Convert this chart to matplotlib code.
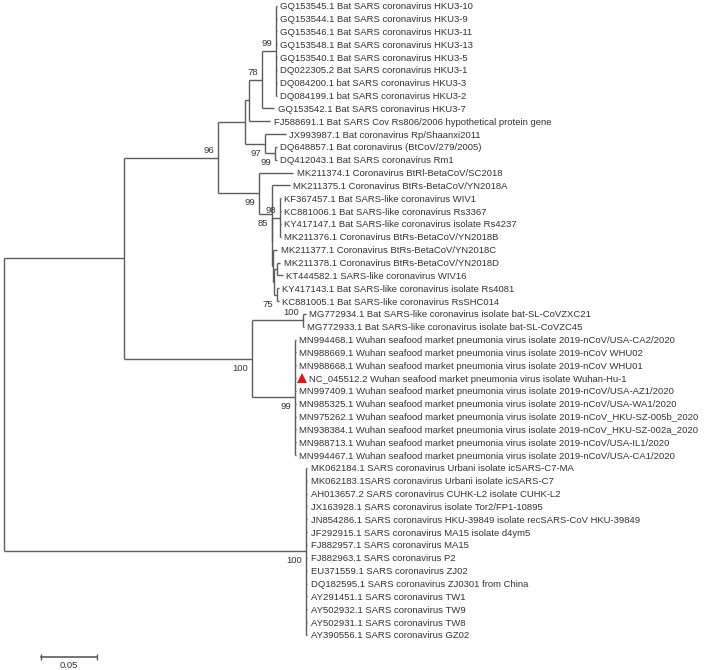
import matplotlib.pyplot as plt

# leaves, top to bottom
leaf_names = [
    'GQ153545.1 Bat SARS coronavirus HKU3-10',
    'GQ153544.1 Bat SARS coronavirus HKU3-9',
    'GQ153546.1 Bat SARS coronavirus HKU3-11',
    'GQ153548.1 Bat SARS coronavirus HKU3-13',
    'GQ153540.1 Bat SARS coronavirus HKU3-5',
    'DQ022305.2 Bat SARS coronavirus HKU3-1',
    'DQ084200.1 bat SARS coronavirus HKU3-3',
    'DQ084199.1 bat SARS coronavirus HKU3-2',
    'GQ153542.1 Bat SARS coronavirus HKU3-7',
    'FJ588691.1 Bat SARS Cov Rs806/2006 hypothetical protein gene',
    'JX993987.1 Bat coronavirus Rp/Shaanxi2011',
    'DQ648857.1 Bat coronavirus (BtCoV/279/2005)',
    'DQ412043.1 Bat SARS coronavirus Rm1',
    'MK211374.1 Coronavirus BtRl-BetaCoV/SC2018',
    'MK211375.1 Coronavirus BtRs-BetaCoV/YN2018A',
    'KF367457.1 Bat SARS-like coronavirus WIV1',
    'KC881006.1 Bat SARS-like coronavirus Rs3367',
    'KY417147.1 Bat SARS-like coronavirus isolate Rs4237',
    'MK211376.1 Coronavirus BtRs-BetaCoV/YN2018B',
    'MK211377.1 Coronavirus BtRs-BetaCoV/YN2018C',
    'MK211378.1 Coronavirus BtRs-BetaCoV/YN2018D',
    'KT444582.1 SARS-like coronavirus WIV16',
    'KY417143.1 Bat SARS-like coronavirus isolate Rs4081',
    'KC881005.1 Bat SARS-like coronavirus RsSHC014',
    'MG772934.1 Bat SARS-like coronavirus isolate bat-SL-CoVZXC21',
    'MG772933.1 Bat SARS-like coronavirus isolate bat-SL-CoVZC45',
    'MN994468.1 Wuhan seafood market pneumonia virus isolate 2019-nCoV/USA-CA2/2020',
    'MN988669.1 Wuhan seafood market pneumonia virus isolate 2019-nCoV WHU02',
    'MN988668.1 Wuhan seafood market pneumonia virus isolate 2019-nCoV WHU01',
    'NC_045512.2 Wuhan seafood market pneumonia virus isolate Wuhan-Hu-1',
    'MN997409.1 Wuhan seafood market pneumonia virus isolate 2019-nCoV/USA-AZ1/2020',
    'MN985325.1 Wuhan seafood market pneumonia virus isolate 2019-nCoV/USA-WA1/2020',
    'MN975262.1 Wuhan seafood market pneumonia virus isolate 2019-nCoV_HKU-SZ-005b_2020',
    'MN938384.1 Wuhan seafood market pneumonia virus isolate 2019-nCoV_HKU-SZ-002a_2020',
    'MN988713.1 Wuhan seafood market pneumonia virus isolate 2019-nCoV/USA-IL1/2020',
    'MN994467.1 Wuhan seafood market pneumonia virus isolate 2019-nCoV/USA-CA1/2020',
    'MK062184.1 SARS coronavirus Urbani isolate icSARS-C7-MA',
    'MK062183.1SARS coronavirus Urbani isolate icSARS-C7',
    'AH013657.2 SARS coronavirus CUHK-L2 isolate CUHK-L2',
    'JX163928.1 SARS coronavirus isolate Tor2/FP1-10895',
    'JN854286.1 SARS coronavirus HKU-39849 isolate recSARS-CoV HKU-39849',
    'JF292915.1 SARS coronavirus MA15 isolate d4ym5',
    'FJ882957.1 SARS coronavirus MA15',
    'FJ882963.1 SARS coronavirus P2',
    'EU371559.1 SARS coronavirus ZJ02',
    'DQ182595.1 SARS coronavirus ZJ0301 from China',
    'AY291451.1 SARS coronavirus TW1',
    'AY502932.1 SARS coronavirus TW9',
    'AY502931.1 SARS coronavirus TW8',
    'AY390556.1 SARS coronavirus GZ02',
]
leaf_parent = (['N8'] * 8 + ['N7', 'N5', 'N6', 'N9', 'N9', 'N4', 'N10']
               + ['N11'] * 4 + ['N13', 'N15', 'N15', 'N75', 'N75', 'NZC', 'NZC']
               + ['NSC2'] * 10 + ['S'] * 14)
leaf_length = [0.0007, 0.0007, 0.0007, 0.0007, 0.0007, 0.0007, 0.0007, 0.0007,
               0.0108, 0.0189, 0.0189, 0.0014, 0.0014, 0.0306, 0.0165,
               0.0009, 0.0009, 0.0009, 0.0009, 0.0036, 0.0023, 0.0050,
               0.0014, 0.0014, 0.0020, 0.0006,
               0.0007, 0.0007, 0.0007, 0.0007, 0.0007, 0.0007, 0.0007, 0.0007,
               0.0007, 0.0007,
               0.0011, 0.0011, 0.0011, 0.0011, 0.0011, 0.0011, 0.0011, 0.0011,
               0.0011, 0.0011, 0.0011, 0.0011, 0.0011, 0.0011]
marked_leaf = 'NC_045512.2'

# internal nodes
node_names = ['root', 'N1', 'S', 'N2', 'NC', 'N3', 'N4', 'N5', 'N6', 'N7', 'N8',
              'N9', 'N10', 'N12', 'N11', 'N13', 'N14', 'N15', 'N75', 'NZC', 'NSC2']
node_parent = [None, 'root', 'root', 'N1', 'N1', 'N2', 'N2', 'N3', 'N3', 'N5', 'N7',
               'N6', 'N4', 'N10', 'N12', 'N12', 'N13', 'N14', 'N14', 'NC', 'NC']
node_length = [0.0, 0.1086, 0.2725, 0.0846, 0.1155, 0.0244, 0.0374, 0.0036, 0.0180,
               0.0117, 0.0126, 0.0090, 0.0110, 0.0006, 0.0069, 0.0006, 0.0013,
               0.0027, 0.0023, 0.0460, 0.0385]
node_support = [None, None, 100, 96, 100, None, 99, None, 97, 78, 99,
                99, 85, None, 98, None, None, None, 75, 100, 99]
support_side = [0, 0, 1, -1, 1, 0, 1, 0, 1, -1, -1,
                1, 1, 0, -1, 0, 0, 0, 1, -1, 1]

line_col = '#5c5c5c'
text_col = '#333333'
fs = 6.8
px = 0.72  # points per pixel at 100 dpi

children = {}
length = {}
for n, p, l in zip(node_names, node_parent, node_length):
    length[n] = l
    if p is not None:
        children.setdefault(p, []).append(n)
for i, (p, l) in enumerate(zip(leaf_parent, leaf_length)):
    length[i] = l
    children.setdefault(p, []).append(i)

xpos, ypos = {}, {}


def layout(n, x0):
    xpos[n] = x0 + length[n]
    if isinstance(n, int):
        ypos[n] = n
        return n
    ys = [layout(c, xpos[n]) for c in children[n]]
    ypos[n] = (min(ys) + max(ys)) / 2
    return ypos[n]


layout('root', 0.0)

plt.rcParams['font.family'] = ['Liberation Sans', 'DejaVu Sans']
fig = plt.figure(figsize=(7.09, 6.70), dpi=100)
ax = fig.add_axes([0, 0, 1, 1])
sx = 1110.0   # pixels per unit of distance
sy = 12.84    # pixels per leaf row
ax.set_xlim(-3.5 / sx, (709 - 3.5) / sx)
ax.set_ylim((670 - 5.7) / sy, -5.7 / sy)
ax.axis('off')

for n, p in list(zip(node_names, node_parent)) + list(zip(range(len(leaf_names)), leaf_parent)):
    if p is not None:
        ax.plot([xpos[p], xpos[n]], [ypos[n], ypos[n]], color=line_col, lw=1.0,
                solid_capstyle='butt')
    if not isinstance(n, int):
        ys = [ypos[c] for c in children[n]]
        ax.plot([xpos[n], xpos[n]], [min(ys), max(ys)], color=line_col, lw=1.0,
                solid_capstyle='butt')

for i, name in enumerate(leaf_names):
    gap = 3.5
    if name.startswith(marked_leaf):
        ax.annotate('', xy=(xpos[i], i))
        ax.plot([xpos[i] + 6 / sx], [i], marker='^', color='#e8141b', ms=6.5,
                markeredgewidth=0)
        gap = 13.5
    ax.annotate(name, xy=(xpos[i], i), xytext=(gap * px, 0), textcoords='offset points',
                ha='left', va='center_baseline', fontsize=fs, color=text_col)

for n, s, side in zip(node_names, node_support, support_side):
    if s is None:
        continue
    ax.annotate(str(s), xy=(xpos[n], ypos[n]), xytext=(-4 * px, -side * 8.5 * px),
                textcoords='offset points', ha='right', va='center_baseline',
                fontsize=fs, color=text_col)

# scale bar
bar_x = (41.3 - 3.5) / sx
bar_y = (656.7 - 5.7) / sy
ax.plot([bar_x, bar_x + 0.05], [bar_y, bar_y], color=line_col, lw=1.2,
        marker='|', ms=5, markeredgewidth=1.0)
ax.annotate('0.05', xy=(bar_x + 0.025, bar_y), xytext=(0, -7.5 * px),
            textcoords='offset points', ha='center', va='center_baseline',
            fontsize=fs, color=text_col)

fig.savefig('out.png', dpi=100)
